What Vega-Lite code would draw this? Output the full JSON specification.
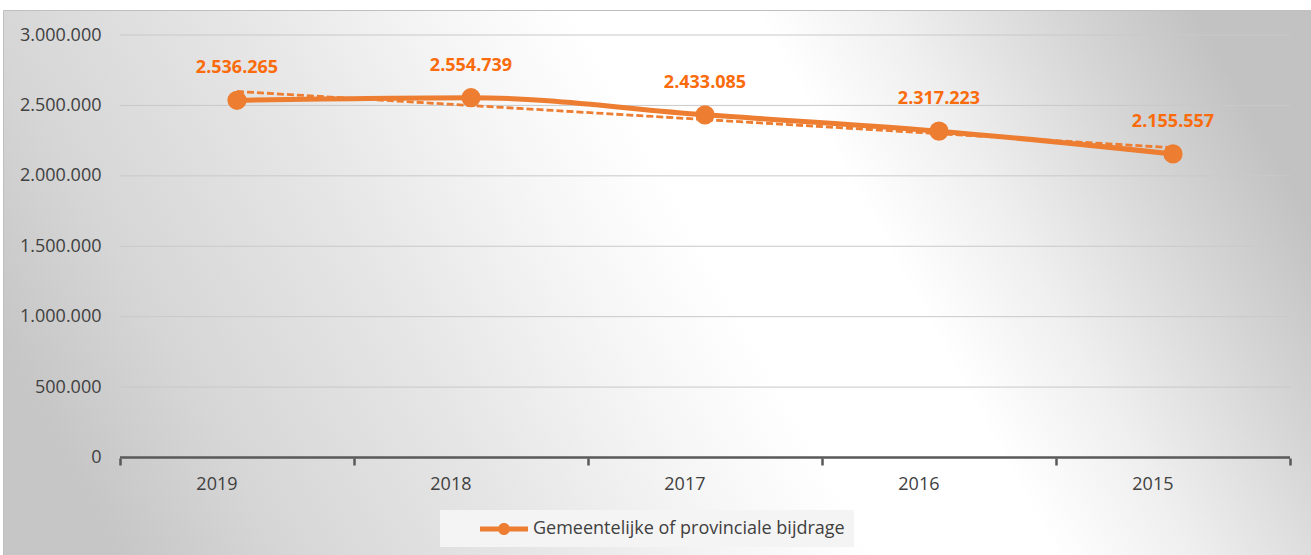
{
  "$schema": "https://vega.github.io/schema/vega-lite/v6.json",
  "width": 1308,
  "height": 545,
  "autosize": {"type": "none"},
  "padding": {"left": 3, "top": 10, "right": 0, "bottom": 0},
  "background": "white",
  "config": {
    "font": "Open Sans",
    "locale": {"number": {"decimal": ",", "thousands": ".", "grouping": [3], "currency": ["€", ""]}},
    "view": {
      "stroke": "#bfbfbf",
      "strokeWidth": 1,
      "fill": {
        "gradient": "linear",
        "x1": 0, "y1": 0.615, "x2": 1, "y2": 0.385,
        "stops": [
          {"offset": 0, "color": "#c6c6c6"},
          {"offset": 0.12, "color": "#d6d6d6"},
          {"offset": 0.3, "color": "#e6e6e6"},
          {"offset": 0.45, "color": "#f6f6f6"},
          {"offset": 0.55, "color": "#ffffff"},
          {"offset": 0.68, "color": "#ffffff"},
          {"offset": 0.78, "color": "#efefef"},
          {"offset": 0.9, "color": "#d6d6d6"},
          {"offset": 1, "color": "#c2c2c2"}
        ]
      }
    }
  },
  "datasets": {
    "main": [
      {"year": "2019", "value": 2536265},
      {"year": "2018", "value": 2554739},
      {"year": "2017", "value": 2433085},
      {"year": "2016", "value": 2317223},
      {"year": "2015", "value": 2155557}
    ],
    "trend": [
      {"year": "2019", "trend": 2599160},
      {"year": "2015", "trend": 2199587}
    ],
    "grid": [
      {"v": 500000}, {"v": 1000000}, {"v": 1500000}, {"v": 2000000}, {"v": 2500000}, {"v": 3000000}
    ],
    "base": [{"v": 0}]
  },
  "layer": [
    {
      "data": {"name": "grid"},
      "mark": {"type": "rule", "color": "#c9c9c9", "strokeWidth": 1},
      "encoding": {
        "x": {"datum": "2019", "type": "nominal", "bandPosition": 0},
        "x2": {"datum": "2015", "bandPosition": 1},
        "y": {"field": "v", "type": "quantitative"}
      }
    },
    {
      "data": {"name": "base"},
      "mark": {"type": "rule", "color": "#595959", "strokeWidth": 2.5},
      "encoding": {
        "x": {"datum": "2019", "type": "nominal", "bandPosition": 0},
        "x2": {"datum": "2015", "bandPosition": 1},
        "y": {"field": "v", "type": "quantitative"}
      }
    },
    {
      "data": {"name": "trend"},
      "mark": {"type": "line", "color": "#ED7D31", "strokeWidth": 2.8, "strokeDash": [7, 3]},
      "encoding": {
        "x": {"field": "year", "type": "nominal"},
        "y": {"field": "trend", "type": "quantitative"}
      }
    },
    {
      "data": {"name": "main"},
      "mark": {"type": "line", "color": "#ED7D31", "strokeWidth": 5, "interpolate": "monotone"},
      "encoding": {
        "x": {
          "field": "year",
          "type": "nominal",
          "sort": null,
          "scale": {
            "type": "band",
            "domain": ["2019", "2018", "2017", "2016", "2015"],
            "paddingInner": 0,
            "paddingOuter": 0.2949,
            "align": 0.8478
          },
          "axis": {
            "title": null,
            "orient": "bottom",
            "offset": -97,
            "domain": false,
            "grid": false,
            "tickBand": "extent",
            "ticks": true,
            "tickSize": 7,
            "tickWidth": 2.5,
            "tickColor": "#595959",
            "labelAngle": 0,
            "labelFontSize": 18,
            "labelColor": "#404040",
            "labelPadding": 19
          }
        },
        "y": {
          "field": "value",
          "type": "quantitative",
          "scale": {"domain": [-692308, 3177515], "nice": false, "zero": false},
          "axis": {
            "title": null,
            "orient": "left",
            "offset": -117,
            "domain": false,
            "ticks": false,
            "grid": false,
            "values": [0, 500000, 1000000, 1500000, 2000000, 2500000, 3000000],
            "format": ",.0f",
            "labelFontSize": 18,
            "labelColor": "#404040",
            "labelPadding": 19
          }
        }
      }
    },
    {
      "data": {"name": "main"},
      "mark": {"type": "circle", "size": 370, "opacity": 1},
      "encoding": {
        "x": {"field": "year", "type": "nominal"},
        "y": {"field": "value", "type": "quantitative"},
        "color": {
          "datum": "Gemeentelijke of provinciale bijdrage",
          "type": "nominal",
          "scale": {"range": ["#ED7D31"]},
          "legend": {
            "title": null,
            "orient": "none",
            "legendX": 437,
            "legendY": 500,
            "fillColor": "#f4f4f4",
            "padding": 9,
            "symbolType": "M-2.4,-0.25H2.4V0.25H-2.4Z M0.6,0A0.6,0.6 0 1,1 -0.6,0A0.6,0.6 0 1,1 0.6,0Z",
            "symbolSize": 400,
            "symbolStrokeWidth": 0,
            "symbolOpacity": 1,
            "symbolFillColor": "#ED7D31",
            "symbolOffset": 45,
            "labelOffset": 19,
            "labelFontSize": 18,
            "labelColor": "#404040",
            "labelLimit": 600
          }
        }
      }
    },
    {
      "data": {"name": "main"},
      "mark": {"type": "text", "dy": -32, "fontSize": 18, "fontWeight": "bold", "color": "#FA6B0C"},
      "encoding": {
        "x": {"field": "year", "type": "nominal"},
        "y": {"field": "value", "type": "quantitative"},
        "text": {"field": "value", "type": "quantitative", "format": ",.0f"}
      }
    }
  ]
}
